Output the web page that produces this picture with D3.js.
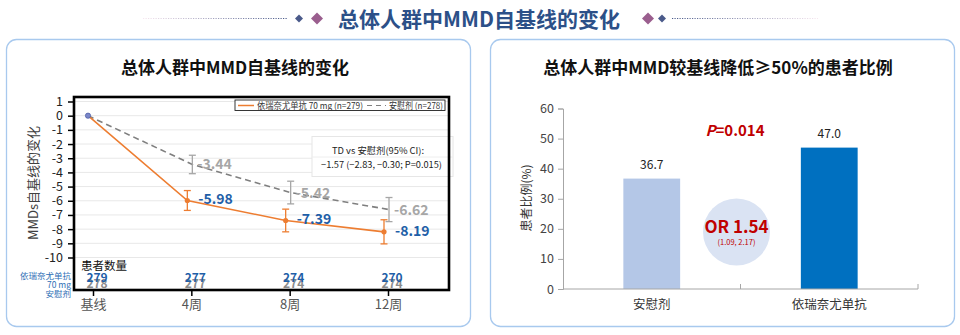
<!DOCTYPE html>
<html><head><meta charset="utf-8">
<script src="https://cdn.jsdelivr.net/npm/d3@7/dist/d3.min.js"></script>
<style>
html,body{margin:0;padding:0;background:#fff;}
svg{display:block;font-family:"Noto Sans CJK SC","Noto Sans",sans-serif;}
</style></head>
<body>
<svg id="c" width="960" height="335"></svg>
<script>
// ---------- data ----------
const timepoints = ["基线", "4周", "8周", "12周"];
const drugMean = [0, -5.98, -7.39, -8.19];
const drugErr = [0, 0.7, 0.8, 0.85];
const placeboMean = [0, -3.44, -5.42, -6.62];
const placeboErr = [0, 0.65, 0.8, 0.85];
const drugN = [279, 277, 274, 270];
const placeboN = [278, 277, 274, 274];
const lineYTicks = [1, 0, -1, -2, -3, -4, -5, -6, -7, -8, -9, -10];

const barCategories = ["安慰剂", "依瑞奈尤单抗"];
const barValues = [36.7, 47.0];
const barLabels = ["36.7", "47.0"];
const barYTicks = [0, 10, 20, 30, 40, 50, 60];

const svg = d3.select("#c");
const FONT = '"Noto Sans CJK SC","Noto Sans",sans-serif';
const fmt2 = d => d.toFixed(2);

// ---------- header ----------
const defs = svg.append("defs");
const gl = defs.append("linearGradient").attr("id", "gl").attr("gradientUnits", "userSpaceOnUse")
  .attr("x1", 143).attr("x2", 288).attr("y1", 0).attr("y2", 0);
gl.append("stop").attr("offset", "0").attr("stop-color", "#f6e6ef");
gl.append("stop").attr("offset", "1").attr("stop-color", "#4a5a8a");
const gr = defs.append("linearGradient").attr("id", "gr").attr("gradientUnits", "userSpaceOnUse")
  .attr("x1", 672).attr("x2", 818).attr("y1", 0).attr("y2", 0);
gr.append("stop").attr("offset", "0").attr("stop-color", "#4a5a8a");
gr.append("stop").attr("offset", "1").attr("stop-color", "#f6e6ef");

svg.append("line").attr("x1", 143).attr("x2", 288).attr("y1", 18.5).attr("y2", 18.5)
  .attr("stroke", "url(#gl)").attr("stroke-width", 1.2).attr("stroke-dasharray", "1.2,1.3");
svg.append("line").attr("x1", 672).attr("x2", 818).attr("y1", 18.5).attr("y2", 18.5)
  .attr("stroke", "url(#gr)").attr("stroke-width", 1.2).attr("stroke-dasharray", "1.2,1.3");
function diamond(cx, cy, r, fill) {
  svg.append("path").attr("d", `M${cx},${cy - r}L${cx + r},${cy}L${cx},${cy + r}L${cx - r},${cy}Z`).attr("fill", fill);
}
diamond(299, 18.5, 4, "#4a5a8a");
diamond(317, 18.5, 6, "#9a5e8e");
diamond(648, 18.5, 6, "#9a5e8e");
diamond(662, 18.5, 4, "#4a5a8a");
svg.append("text").attr("x", 479).attr("y", 26.5).attr("text-anchor", "middle")
  .attr("font-size", 21).attr("font-weight", 700).attr("fill", "#2c5088")
  .text("总体人群中MMD自基线的变化");

// ---------- panels ----------
[[6, 464], [490, 464]].forEach(([x, w]) => {
  svg.append("rect").attr("x", x + 0.5).attr("y", 39.5).attr("width", w).attr("height", 287)
    .attr("rx", 10).attr("fill", "#fff").attr("stroke", "#a8c9ee").attr("stroke-width", 1.3);
});

// ================= LEFT CHART =================
svg.append("text").attr("x", 235).attr("y", 73.5).attr("text-anchor", "middle")
  .attr("font-size", 17).attr("font-weight", 700).attr("fill", "#111")
  .text("总体人群中MMD自基线的变化");

const fx0 = 74, fx1 = 449, fy0 = 97, fy1 = 290;
const xL = d3.scalePoint().domain(timepoints).range([93, 388]);
const yL = d3.scaleLinear().domain([1, -10]).range([101.5, 257.5]);
const offDrug = -4, offPl = 1;

const gL = svg.append("g");
// grid
gL.append("g").selectAll("line").data(lineYTicks).join("line")
  .attr("x1", fx0).attr("x2", fx1).attr("y1", d => yL(d)).attr("y2", d => yL(d))
  .attr("stroke", "#e8e8e8").attr("stroke-width", 1);

// TD box
gL.append("rect").attr("x", 312).attr("y", 136.5).attr("width", 141).attr("height", 40)
  .attr("fill", "#fff").attr("stroke", "#e6e6e6").attr("stroke-width", 1);
gL.append("line").attr("x1", 312).attr("x2", 453).attr("y1", 157).attr("y2", 157).attr("stroke", "#eeeeee");
gL.append("text").attr("x", 378).attr("y", 154).attr("text-anchor", "middle").attr("font-size", 9)
  .attr("textLength", 92).attr("lengthAdjust", "spacingAndGlyphs")
  .attr("fill", "#222").text("TD vs 安慰剂(95% CI):");
gL.append("text").attr("x", 381.5).attr("y", 168).attr("text-anchor", "middle").attr("font-size", 9)
  .attr("textLength", 121).attr("lengthAdjust", "spacingAndGlyphs")
  .attr("fill", "#222").text("−1.57 (−2.83, −0.30; P=0.015)");

// y axis
const yAxis = d3.axisLeft(yL).tickValues(lineYTicks).tickSize(6).tickPadding(5).tickFormat(d => String(d));
const ya = gL.append("g").attr("transform", `translate(${fx0},0)`).call(yAxis);
ya.select(".domain").remove();
ya.selectAll(".tick line").attr("stroke", "#000").attr("stroke-width", 1.5);
ya.selectAll(".tick text").attr("font-size", 12.5).attr("fill", "#222").attr("font-family", FONT);

// x axis
const xAxis = d3.axisBottom(xL).tickSize(6).tickPadding(4);
const xa = gL.append("g").attr("transform", `translate(0,${fy1})`).call(xAxis);
xa.select(".domain").remove();
xa.selectAll(".tick line").attr("stroke", "#000").attr("stroke-width", 1.5);
xa.selectAll(".tick text").attr("font-size", 13).attr("fill", "#555").attr("font-family", FONT);

// frame
gL.append("rect").attr("x", fx0).attr("y", fy0).attr("width", fx1 - fx0).attr("height", fy1 - fy0)
  .attr("fill", "none").attr("stroke", "#000").attr("stroke-width", 2.6);

// y label
gL.append("text").attr("transform", "translate(38,183) rotate(-90)").attr("text-anchor", "middle")
  .attr("font-size", 13).attr("fill", "#404040").text("MMDs自基线的变化");

// placebo line
const plPts = timepoints.map((t, i) => [xL(t) + (i === 0 ? -5 : offPl), yL(placeboMean[i])]);
gL.append("path").attr("d", d3.line()(plPts)).attr("fill", "none")
  .attr("stroke", "#7f7f7f").attr("stroke-width", 1.6).attr("stroke-dasharray", "6,4");
// drug line
const drPts = timepoints.map((t, i) => [xL(t) + (i === 0 ? -5 : offDrug), yL(drugMean[i])]);
gL.append("path").attr("d", d3.line()(drPts)).attr("fill", "none")
  .attr("stroke", "#ed7d31").attr("stroke-width", 1.6);

function errBar(x, m, e, col) {
  const g = gL.append("g").attr("stroke", col).attr("stroke-width", 1.3);
  g.append("line").attr("x1", x).attr("x2", x).attr("y1", yL(m + e)).attr("y2", yL(m - e));
  g.append("line").attr("x1", x - 3.5).attr("x2", x + 3.5).attr("y1", yL(m + e)).attr("y2", yL(m + e));
  g.append("line").attr("x1", x - 3.5).attr("x2", x + 3.5).attr("y1", yL(m - e)).attr("y2", yL(m - e));
}
for (let i = 1; i < timepoints.length; i++) {
  errBar(plPts[i][0], placeboMean[i], placeboErr[i], "#a6a6a6");
  errBar(drPts[i][0], drugMean[i], drugErr[i], "#ed7d31");
}
// drug markers
gL.selectAll(".dm").data(drPts.slice(1)).join("circle").attr("cx", d => d[0]).attr("cy", d => d[1])
  .attr("r", 2.6).attr("fill", "#ed7d31");
gL.append("circle").attr("cx", drPts[0][0]).attr("cy", drPts[0][1]).attr("r", 2.6)
  .attr("fill", "#7b87c8").attr("stroke", "#4f5fa8").attr("stroke-width", 0.8);

// value labels
for (let i = 1; i < timepoints.length; i++) {
  gL.append("text").attr("x", plPts[i][0] + 5).attr("y", plPts[i][1] + 5)
    .attr("font-size", 14).attr("font-weight", 700).attr("fill", "#a6a6a6")
    .text(fmt2(placeboMean[i]));
  gL.append("text").attr("x", drPts[i][0] + 11).attr("y", drPts[i][1] + 4)
    .attr("font-size", 14).attr("font-weight", 700).attr("fill", "#1f5fa8")
    .text(fmt2(drugMean[i]));
}

// legend
const lg = gL.append("g");
lg.append("rect").attr("x", 235).attr("y", 100).attr("width", 210).attr("height", 10.5)
  .attr("fill", "#fff").attr("stroke", "#222").attr("stroke-width", 0.9);
lg.append("line").attr("x1", 238).attr("x2", 254).attr("y1", 105.5).attr("y2", 105.5)
  .attr("stroke", "#ed7d31").attr("stroke-width", 1.5);
lg.append("text").attr("x", 257).attr("y", 108.7).attr("font-size", 8.6).attr("fill", "#333")
  .attr("textLength", 106).attr("lengthAdjust", "spacingAndGlyphs")
  .text("依瑞奈尤单抗 70 mg (n=279)");
lg.append("line").attr("x1", 367).attr("x2", 386).attr("y1", 105.5).attr("y2", 105.5)
  .attr("stroke", "#7f7f7f").attr("stroke-width", 1.2).attr("stroke-dasharray", "5,4");
lg.append("text").attr("x", 389).attr("y", 108.7).attr("font-size", 8.6).attr("fill", "#333")
  .attr("textLength", 54).attr("lengthAdjust", "spacingAndGlyphs")
  .text("安慰剂 (n=278)");

// patient numbers
gL.append("text").attr("x", 81).attr("y", 270).attr("font-size", 11.5).attr("fill", "#111").text("患者数量");
timepoints.forEach((t, i) => {
  gL.append("text").attr("x", xL(t) + 4).attr("y", 288).attr("text-anchor", "middle")
    .attr("font-size", 12).attr("font-weight", 700).attr("fill", "#8c8c8c").text(placeboN[i]);
  gL.append("text").attr("x", xL(t) + 4).attr("y", 282).attr("text-anchor", "middle")
    .attr("font-size", 12).attr("font-weight", 700).attr("fill", "#1f5fa8").text(drugN[i]);
});
[["依瑞奈尤单抗", 279], ["70 mg", 288], ["安慰剂", 297]].forEach(([s, y]) => {
  gL.append("text").attr("x", 71).attr("y", y).attr("text-anchor", "end")
    .attr("font-size", 8.5).attr("fill", "#2e6eb5").text(s);
});

// ================= RIGHT CHART =================
svg.append("text").attr("x", 718).attr("y", 74).attr("text-anchor", "middle")
  .attr("font-size", 17).attr("font-weight", 700).attr("fill", "#111")
  .text("总体人群中MMD较基线降低≥50%的患者比例");

const xR = d3.scaleBand().domain(barCategories).range([563, 918]).paddingInner(0.68).paddingOuter(0.34);
const yR = d3.scaleLinear().domain([0, 60]).range([289, 108.5]);
const gR = svg.append("g");

const barColors = ["#b4c7e7", "#0070c0"];
gR.selectAll(".bar").data(barValues).join("rect")
  .attr("x", (d, i) => xR(barCategories[i])).attr("width", xR.bandwidth())
  .attr("y", d => yR(d)).attr("height", d => yR(0) - yR(d))
  .attr("fill", (d, i) => barColors[i]);
gR.selectAll(".bl").data(barValues).join("text")
  .attr("x", (d, i) => xR(barCategories[i]) + xR.bandwidth() / 2).attr("y", d => yR(d) - 10)
  .attr("text-anchor", "middle").attr("font-size", 12).attr("fill", "#222")
  .text((d, i) => barLabels[i]);

const yaR = gR.append("g").attr("transform", "translate(563,0)")
  .call(d3.axisLeft(yR).tickValues(barYTicks).tickSize(5).tickPadding(4));
yaR.select(".domain").attr("stroke", "#a6a6a6");
yaR.selectAll(".tick line").attr("stroke", "#a6a6a6");
yaR.selectAll(".tick text").attr("font-size", 12.5).attr("fill", "#444").attr("font-family", FONT);

const xaR = gR.append("g").attr("transform", "translate(0,289)");
xaR.append("line").attr("x1", 563).attr("x2", 918).attr("stroke", "#a6a6a6");
[740.5, 918].forEach(x => xaR.append("line").attr("x1", x).attr("x2", x).attr("y1", 0).attr("y2", -5).attr("stroke", "#a6a6a6"));
barCategories.forEach(c => {
  xaR.append("text").attr("x", xR(c) + xR.bandwidth() / 2).attr("y", 20).attr("text-anchor", "middle")
    .attr("font-size", 12.5).attr("fill", "#333").text(c);
});

gR.append("text").attr("transform", "translate(531,198) rotate(-90)").attr("text-anchor", "middle")
  .attr("font-size", 12).attr("fill", "#333").text("患者比例(%)");

// P value
const pt = gR.append("text").attr("x", 735).attr("y", 136).attr("text-anchor", "middle")
  .attr("font-size", 15).attr("font-weight", 700).attr("fill", "#c00000");
pt.append("tspan").attr("font-style", "italic").text("P");
pt.append("tspan").text("=0.014");

// OR circle
gR.append("circle").attr("cx", 736.5).attr("cy", 232).attr("r", 33.5).attr("fill", "#dae3f3");
gR.append("text").attr("x", 736.5).attr("y", 233).attr("text-anchor", "middle")
  .attr("font-size", 17).attr("font-weight", 700).attr("fill", "#c00000").text("OR 1.54");
gR.append("text").attr("x", 736.5).attr("y", 245).attr("text-anchor", "middle")
  .attr("font-size", 7.5).attr("fill", "#c00000").text("(1.09, 2.17)");
</script>
</body></html>
